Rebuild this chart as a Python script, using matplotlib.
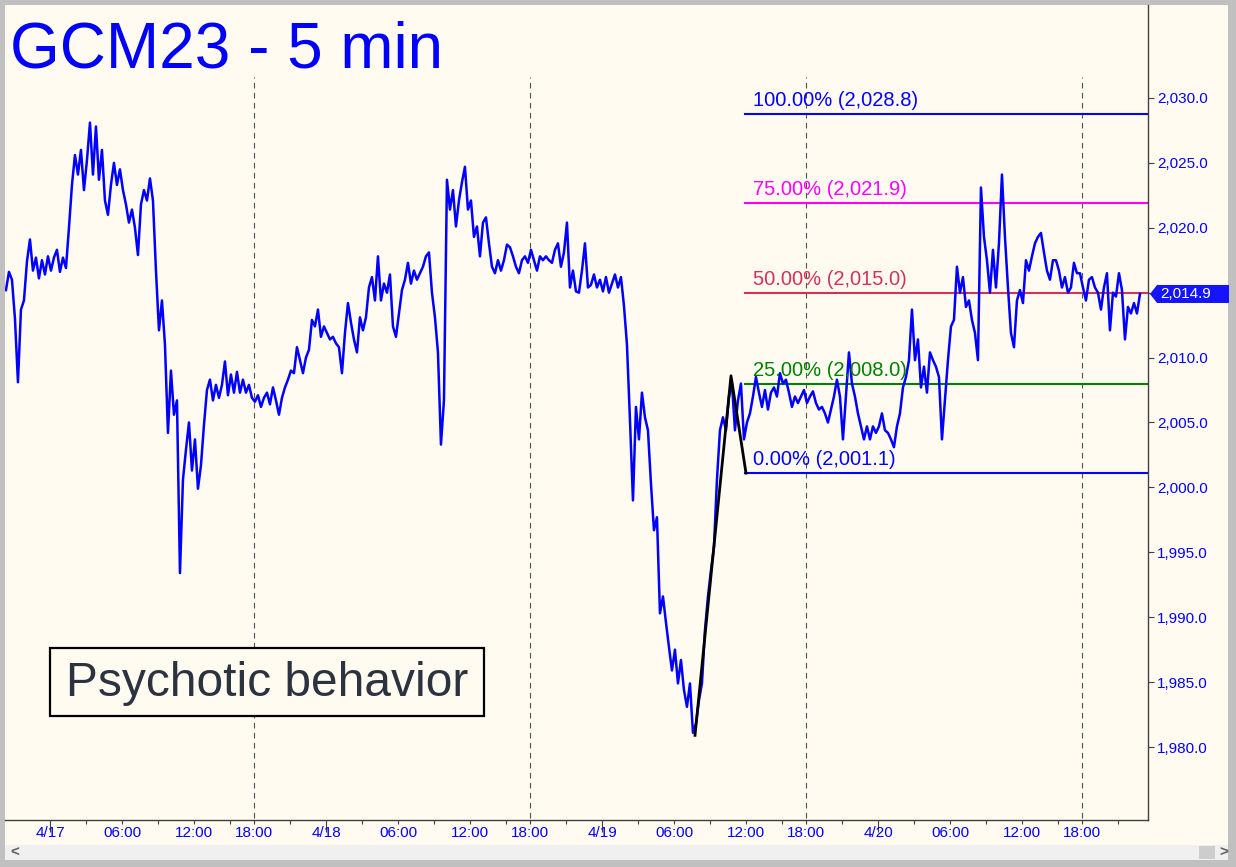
import matplotlib
matplotlib.use("Agg")
import numpy as np
import matplotlib.pyplot as plt
from matplotlib.patches import Rectangle, Polygon
from matplotlib.transforms import blended_transform_factory

plt.rcParams['font.family'] = ['Liberation Sans', 'DejaVu Sans']

# GCM23 closes, one every 15 min, x in session hours from 4/17 00:00
# (the 17:00-18:00 break is left out, so one day = 23 hours)
first_hour = -3.67
bar_hours = 0.25
prices = [
    2015.2, 2016.6, 2016.0, 2013.0, 2008.1, 2013.7, 2014.4, 2017.4, 2019.1, 2016.7,
    2017.7, 2016.1, 2017.5, 2016.4, 2017.8, 2016.7, 2017.7, 2018.3, 2016.6, 2017.7,
    2016.9, 2020.0, 2023.3, 2025.6, 2024.1, 2026.0, 2022.9, 2025.2, 2028.1, 2024.1,
    2027.8, 2023.7, 2026.0, 2022.1, 2021.0, 2023.3, 2025.0, 2023.3, 2024.5, 2022.9,
    2021.8, 2020.4, 2021.4, 2020.0, 2017.9, 2021.8, 2022.9, 2022.1, 2023.8, 2022.1,
    2016.7, 2012.1, 2014.4, 2011.0, 2004.2, 2009.0, 2005.6, 2006.7, 1993.4, 2000.6,
    2002.9, 2005.0, 2001.3, 2003.7, 1999.9, 2001.7, 2004.8, 2007.5, 2008.3, 2006.7,
    2007.9, 2006.9, 2007.9, 2009.7, 2007.1, 2008.7, 2007.3, 2008.9, 2007.3, 2008.3,
    2007.3, 2007.9, 2006.9, 2006.6, 2007.1, 2006.2, 2006.9, 2007.3, 2006.4, 2007.7,
    2006.7, 2005.6, 2006.9, 2007.7, 2008.3, 2009.0,
    2008.8, 2010.8, 2009.8, 2008.8, 2010.0, 2010.6, 2012.9, 2012.4, 2013.7, 2011.6,
    2012.4, 2011.9, 2011.4, 2011.6, 2011.1, 2010.8, 2008.8, 2011.9, 2014.2, 2012.7,
    2011.4, 2010.4, 2013.1, 2012.1, 2013.1, 2015.4, 2016.2, 2014.4, 2017.8, 2014.4,
    2015.7, 2015.0, 2016.4, 2012.4, 2011.6, 2013.4, 2015.2, 2016.0, 2017.3, 2015.7,
    2016.7, 2016.0, 2016.5, 2017.0, 2017.8, 2018.1, 2015.0, 2013.1, 2010.4, 2003.3,
    2006.7, 2023.7, 2021.4, 2022.9, 2020.1, 2022.1, 2023.5, 2024.7, 2021.4, 2022.1,
    2019.3, 2020.1, 2017.8, 2020.4, 2020.8, 2018.8, 2017.0, 2016.5, 2017.5, 2016.7,
    2017.5, 2018.7, 2018.5, 2017.8, 2017.0, 2016.5, 2017.5, 2017.8, 2017.3, 2018.3,
    2017.5, 2016.7, 2017.8, 2017.5, 2017.8, 2017.5, 2017.3, 2018.3, 2018.8, 2017.0,
    2018.1, 2020.4, 2015.4, 2016.7, 2015.1, 2015.0, 2016.7, 2018.8, 2015.4,
    2015.6, 2016.4, 2015.4, 2016.0, 2015.1, 2016.2, 2015.0, 2015.7, 2016.4, 2015.4,
    2016.2, 2014.0, 2011.0, 2005.2, 1999.0, 2006.2, 2003.7, 2007.3, 2005.4, 2004.4,
    2000.3, 1996.7, 1997.7, 1990.3, 1991.6, 1989.6, 1987.7, 1985.9, 1987.5, 1984.9,
    1986.7, 1984.4, 1983.1, 1984.9, 1981.1, 1981.8, 1983.6, 1984.9, 1989.0, 1991.6,
    1993.6, 1995.4, 2000.6, 2004.4, 2005.4, 2004.4, 2007.0, 2008.0, 2004.4, 2006.7,
    2008.0, 2003.7, 2005.0, 2005.7, 2007.0, 2008.5, 2007.3, 2006.2, 2007.5, 2006.0,
    2007.3, 2007.7, 2007.0, 2008.8, 2008.0, 2008.3, 2007.3, 2006.2, 2007.0, 2006.5,
    2007.0, 2007.5, 2006.5, 2007.0, 2007.4, 2006.5, 2006.0, 2006.2, 2005.7, 2005.0,
    2006.0, 2007.0, 2008.3, 2007.0, 2003.7, 2007.0, 2010.4, 2008.0, 2007.0, 2005.7,
    2004.7, 2003.7,
    2004.7, 2003.7, 2004.7, 2004.2, 2004.7, 2005.7, 2004.4, 2004.2, 2003.7, 2003.1,
    2004.7, 2005.7, 2007.7, 2008.5, 2009.8, 2013.7, 2009.8, 2011.4, 2007.7, 2009.3,
    2007.3, 2010.4, 2009.8, 2009.3, 2008.5, 2003.7, 2006.7, 2009.8, 2012.4, 2012.9,
    2017.0, 2015.0, 2016.2, 2013.9, 2014.4, 2012.9, 2011.9, 2009.8, 2023.1, 2019.3,
    2017.5, 2015.0, 2018.3, 2015.4, 2018.8, 2024.1, 2019.3, 2015.4, 2011.9, 2010.8,
    2014.4, 2015.2, 2014.2, 2017.5, 2016.7, 2017.8, 2018.8, 2019.3, 2019.6, 2018.1,
    2016.7, 2016.0, 2017.5, 2017.5, 2016.7, 2015.4, 2016.2, 2015.0, 2015.4, 2017.3,
    2016.5, 2016.5, 2015.4, 2014.4, 2016.0, 2016.2, 2015.4, 2015.0, 2013.7, 2015.4,
    2016.5, 2012.1, 2015.0, 2014.7, 2016.5, 2015.2, 2011.4, 2013.9, 2013.4, 2014.2,
    2013.4, 2014.9,
]
last_price = 2014.9

# retracement levels
fib_names = ['0.00%', '25.00%', '50.00%', '75.00%', '100.00%']
fib_values = [2001.1, 2008.0, 2015.0, 2021.9, 2028.8]
fib_colors = ['#0000ff', '#008000', '#d2325a', '#ff00ff', '#0000ff']
fib_start = 57.9

# hand-drawn swing (low -> high -> retest)
swing_hours = [53.75, 56.75, 58.0]
swing_prices = [1980.9, 2008.6, 2001.1]

day_labels = ['4/17', '4/18', '4/19', '4/20']

W, H = 1236, 867
cream = '#fffbf0'
blue = '#0000ff'

fig = plt.figure(figsize=(W / 100, H / 100), dpi=100, facecolor='#c0c0c0')
fig.add_artist(Rectangle((5 / W, 22 / H), 1223 / W, 840 / H, transform=fig.transFigure,
                         facecolor=cream, edgecolor='none', zorder=-5))
fig.add_artist(Rectangle((5 / W, 7 / H), 1223 / W, 15 / H, transform=fig.transFigure,
                         facecolor='#f0f0f0', edgecolor='none', zorder=-5))
fig.add_artist(Rectangle((1199 / W, 8 / H), 16 / W, 13 / H, transform=fig.transFigure,
                         facecolor='#cdcdcd', edgecolor='none', zorder=-4))
fig.text(10 / W, 1 - 853 / H, '<', fontsize=11, color='#606060', va='center', fontweight='bold')
fig.text(1219 / W, 1 - 853 / H, '>', fontsize=11, color='#606060', va='center', fontweight='bold')

ax = fig.add_axes([5 / W, 47 / H, 1143 / W, 815 / H])
ax.set_facecolor(cream)
ax.set_xlim(-3.75, 91.5)
ax.set_ylim(1974.38, 2037.16)

hours = first_hour + np.arange(len(prices)) * bar_hours

# 18:00 session breaks
for d in range(len(day_labels)):
    ax.plot([23 * d + 17] * 2, [1970, 2031.6], color='#505050', lw=0.8,
            dashes=(5, 4), zorder=1)

ax.plot(hours, prices, color=blue, lw=1.8, zorder=3)

for name, val, col in zip(fib_names, fib_values, fib_colors):
    ax.plot([fib_start, 91.5], [val, val], color=col, lw=1.5, zorder=2)
    ax.text(58.6, val + 0.6, f'{name} ({val:,.1f})', color=col, fontsize=14.5,
            va='baseline', ha='left', zorder=4)

ax.plot(swing_hours, swing_prices, color='black', lw=2, zorder=4)

# axes look
for side in ['top', 'left']:
    ax.spines[side].set_visible(False)
for side in ['right', 'bottom']:
    ax.spines[side].set_color('#404040')
    ax.spines[side].set_linewidth(1)

ax.yaxis.tick_right()
ytick_vals = np.arange(1980, 2031, 5)
ax.set_yticks(ytick_vals)
# the 2,015.0 label sits under the last-price flag
ax.set_yticklabels(['' if v == 2015 else f'{v:,.1f}' for v in ytick_vals])
ax.tick_params(axis='y', direction='out', length=4.5, width=0.8, color='#404040',
               labelcolor=blue, labelsize=11, pad=2)

major_pos, minor_pos, minor_lab = [], [], []
for d, day in enumerate(day_labels):
    for clock in range(0, 24, 3):
        h = 23 * d + clock - (1 if clock >= 18 else 0)
        if h > 91.5:
            continue
        if clock == 0:
            major_pos.append(h)
        else:
            minor_pos.append(h)
            minor_lab.append(f'{clock:02d}:00' if clock in (6, 12, 18) else '')
ax.set_xticks(major_pos)
ax.set_xticklabels(day_labels)
ax.set_xticks(minor_pos, minor=True)
ax.set_xticklabels(minor_lab, minor=True)
ax.tick_params(axis='x', which='major', direction='out', length=8.5, width=0.8,
               color='#404040', labelcolor=blue, labelsize=11, pad=-4.5)
ax.tick_params(axis='x', which='minor', direction='out', length=3, width=0.8,
               color='#404040', labelcolor=blue, labelsize=11, pad=1.5)

# last price flag on the right scale
tr = blended_transform_factory(ax.transAxes, ax.transData)
x0 = (1150 - 5) / 1143
x1 = (1157 - 5) / 1143
x2 = (1229 - 5) / 1143
hh = 9 / 12.98
ax.add_patch(Polygon([[x0, last_price], [x1, last_price + hh], [x2, last_price + hh],
                      [x2, last_price - hh], [x1, last_price - hh]], closed=True,
                     transform=tr, facecolor='#1414ff', edgecolor='none', clip_on=False, zorder=6))
ax.text((1160 - 5) / 1143, last_price, f'{last_price:,.1f}', transform=tr, color='white',
        fontsize=11, va='center', ha='left', zorder=7, clip_on=False)

# title and note
fig.text(10 / W, 1 - 67 / H, 'GCM23 - 5 min', color=blue, fontsize=46, va='baseline', ha='left')
fig.add_artist(Rectangle((50 / W, 1 - 716 / H), 434 / W, 68 / H, transform=fig.transFigure,
                         facecolor=cream, edgecolor='black', lw=1.6, zorder=5))
fig.text(267 / W, 1 - 684 / H, 'Psychotic behavior', color='#2b3340', fontsize=34.5,
         va='center', ha='center', zorder=6)

fig.savefig('out.png', dpi=100, facecolor=fig.get_facecolor())
